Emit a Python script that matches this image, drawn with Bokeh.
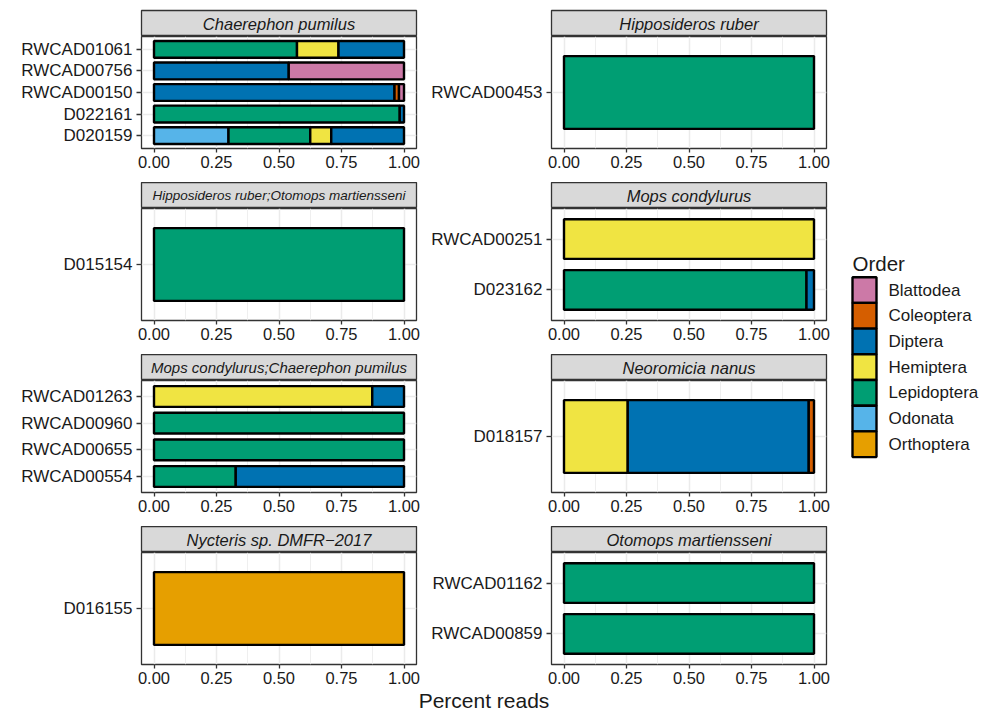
from bokeh.plotting import figure
from bokeh.layouts import row, column
from bokeh.models import Range1d, FixedTicker, Label, ColumnDataSource, PrintfTickFormatter
from bokeh.core.properties import value
from bokeh.embed import file_html
from bokeh.resources import INLINE

FONT = "Liberation Sans"

# ---------------- data ----------------
ORDERS = ["Blattodea", "Coleoptera", "Diptera", "Hemiptera", "Lepidoptera", "Odonata", "Orthoptera"]
ORDER_COLORS = ["#CC79A7", "#D55E00", "#0072B2", "#F0E442", "#009E73", "#56B4E9", "#E69F00"]

PANELS = [
    "Chaerephon pumilus",
    "Hipposideros ruber",
    "Hipposideros ruber;Otomops martiensseni",
    "Mops condylurus",
    "Mops condylurus;Chaerephon pumilus",
    "Neoromicia nanus",
    "Nycteris sp. DMFR\u22122017",
    "Otomops martiensseni",
]

SEG_BAT = [
    "Chaerephon pumilus", "Chaerephon pumilus", "Chaerephon pumilus",
    "Chaerephon pumilus", "Chaerephon pumilus",
    "Chaerephon pumilus", "Chaerephon pumilus", "Chaerephon pumilus",
    "Chaerephon pumilus", "Chaerephon pumilus",
    "Chaerephon pumilus", "Chaerephon pumilus", "Chaerephon pumilus", "Chaerephon pumilus",
    "Hipposideros ruber",
    "Hipposideros ruber;Otomops martiensseni",
    "Mops condylurus",
    "Mops condylurus", "Mops condylurus",
    "Mops condylurus;Chaerephon pumilus", "Mops condylurus;Chaerephon pumilus",
    "Mops condylurus;Chaerephon pumilus",
    "Mops condylurus;Chaerephon pumilus",
    "Mops condylurus;Chaerephon pumilus", "Mops condylurus;Chaerephon pumilus",
    "Neoromicia nanus", "Neoromicia nanus", "Neoromicia nanus",
    "Nycteris sp. DMFR\u22122017",
    "Otomops martiensseni",
    "Otomops martiensseni",
]
SEG_SAMPLE = [
    "RWCAD01061", "RWCAD01061", "RWCAD01061",
    "RWCAD00756", "RWCAD00756",
    "RWCAD00150", "RWCAD00150", "RWCAD00150",
    "D022161", "D022161",
    "D020159", "D020159", "D020159", "D020159",
    "RWCAD00453",
    "D015154",
    "RWCAD00251",
    "D023162", "D023162",
    "RWCAD01263", "RWCAD01263",
    "RWCAD00960",
    "RWCAD00655",
    "RWCAD00554", "RWCAD00554",
    "D018157", "D018157", "D018157",
    "D016155",
    "RWCAD01162",
    "RWCAD00859",
]
SEG_ORDER = [
    "Lepidoptera", "Hemiptera", "Diptera",
    "Diptera", "Blattodea",
    "Diptera", "Coleoptera", "Blattodea",
    "Lepidoptera", "Diptera",
    "Odonata", "Lepidoptera", "Hemiptera", "Diptera",
    "Lepidoptera",
    "Lepidoptera",
    "Hemiptera",
    "Lepidoptera", "Diptera",
    "Hemiptera", "Diptera",
    "Lepidoptera",
    "Lepidoptera",
    "Lepidoptera", "Diptera",
    "Hemiptera", "Diptera", "Coleoptera",
    "Orthoptera",
    "Lepidoptera",
    "Lepidoptera",
]
SEG_VALUE = [
    0.572, 0.166, 0.262,
    0.539, 0.461,
    0.962, 0.018, 0.020,
    0.983, 0.017,
    0.298, 0.327, 0.084, 0.291,
    1.0,
    1.0,
    1.0,
    0.970, 0.030,
    0.873, 0.127,
    1.0,
    1.0,
    0.327, 0.673,
    0.255, 0.724, 0.021,
    1.0,
    1.0,
    1.0,
]

XTICKS = [0.0, 0.25, 0.5, 0.75, 1.0]
XMINOR = [0.125, 0.375, 0.625, 0.875]
X_TITLE = "Percent reads"
LEGEND_TITLE = "Order"

# ---------------- style / layout ----------------
COL_W = [424, 412]
COL_ML = [141, 127]
COL_MR = [8, 10]
FRAME_H = 112
ROW_MB = [34, 34, 34, 25]
STRIP_H = 26
TOP_PAD = 10
TITLE_H = 21
BAR_H = 0.78
STRIP_SIZES = {2: "13.5px", 4: "15px"}
TEXT_COL = "#1A1A1A"
BORDER_COL = "#333333"
GRID_COL = "#EBEBEB"


def panel_data(bat):
    idx = [i for i, b in enumerate(SEG_BAT) if b == bat]
    samples = sorted(set(SEG_SAMPLE[i] for i in idx))
    left, right, ys, colors = [], [], [], []
    for k, s in enumerate(samples):
        segs = [i for i in idx if SEG_SAMPLE[i] == s]
        segs.sort(key=lambda i: -ORDERS.index(SEG_ORDER[i]))
        cum = 0.0
        for i in segs:
            left.append(cum)
            cum += SEG_VALUE[i]
            right.append(cum)
            ys.append(k + 1)
            colors.append(ORDER_COLORS[ORDERS.index(SEG_ORDER[i])])
    return samples, dict(left=left, right=right, y=ys, color=colors)


def make_strip(pi, col, rowi):
    top = TOP_PAD if rowi == 0 else 0
    p = figure(width=COL_W[col], height=STRIP_H + top, x_range=Range1d(0, 1), y_range=Range1d(0, 1),
               output_backend="svg", toolbar_location=None, title=None,
               x_axis_type=None, y_axis_type=None,
               min_border_left=COL_ML[col], min_border_right=COL_MR[col],
               min_border_top=top, min_border_bottom=0)
    p.background_fill_color = "#D9D9D9"
    p.border_fill_color = "white"
    p.outline_line_color = BORDER_COL
    p.outline_line_width = 1.3
    p.grid.visible = False
    p.add_layout(Label(x=0.5, y=0.5, text=PANELS[pi], text_align="center", text_baseline="middle",
                       text_font=FONT, text_font_style="italic",
                       text_font_size=STRIP_SIZES.get(pi, "16.5px"), text_color=TEXT_COL))
    return p


def make_panel(pi, col, rowi):
    samples, data = panel_data(PANELS[pi])
    n = len(samples)
    p = figure(width=COL_W[col], height=FRAME_H + ROW_MB[rowi],
               x_range=Range1d(-0.05, 1.05), y_range=Range1d(0.4, n + 0.6),
               output_backend="svg", toolbar_location=None, title=None,
               min_border_left=COL_ML[col], min_border_right=COL_MR[col],
               min_border_top=0, min_border_bottom=ROW_MB[rowi])
    p.hbar(y="y", left="left", right="right", height=BAR_H, fill_color="color",
           line_color="black", line_width=2.4, source=ColumnDataSource(data))
    p.outline_line_color = BORDER_COL
    p.outline_line_width = 1.3
    p.background_fill_color = "white"
    p.border_fill_color = "white"

    p.xaxis.ticker = FixedTicker(ticks=XTICKS)
    p.xaxis.formatter = PrintfTickFormatter(format="%.2f")
    p.yaxis.ticker = FixedTicker(ticks=list(range(1, n + 1)))
    p.yaxis.major_label_overrides = {k + 1: s for k, s in enumerate(samples)}

    p.xgrid.ticker = FixedTicker(ticks=XTICKS, minor_ticks=XMINOR)
    p.xgrid.grid_line_color = GRID_COL
    p.xgrid.grid_line_width = 1.5
    p.xgrid.minor_grid_line_color = GRID_COL
    p.xgrid.minor_grid_line_width = 0.8
    p.ygrid.ticker = FixedTicker(ticks=list(range(1, n + 1)))
    p.ygrid.grid_line_color = GRID_COL
    p.ygrid.grid_line_width = 1.5

    for ax in (p.xaxis[0], p.yaxis[0]):
        ax.axis_line_color = None
        ax.major_tick_line_color = BORDER_COL
        ax.major_tick_line_width = 1.3
        ax.major_tick_in = 0
        ax.minor_tick_line_color = None
        ax.major_label_text_font = FONT
        ax.major_label_text_color = TEXT_COL
    p.xaxis.major_tick_out = 4
    p.xaxis.major_label_standoff = 3
    p.xaxis.major_label_text_font_size = "16.5px"
    p.yaxis.major_tick_out = 5
    p.yaxis.major_label_standoff = 4
    p.yaxis.major_label_text_font_size = "17px"
    return p


rows = []
for r in range(4):
    rows.append(row(make_strip(2 * r, 0, r), make_strip(2 * r + 1, 1, r)))
    rows.append(row(make_panel(2 * r, 0, r), make_panel(2 * r + 1, 1, r)))

TOTAL_W = COL_W[0] + COL_W[1]
title_fig = figure(width=TOTAL_W, height=TITLE_H, x_range=Range1d(0, TOTAL_W), y_range=Range1d(0, TITLE_H),
                   output_backend="svg", toolbar_location=None, title=None,
                   x_axis_type=None, y_axis_type=None, min_border=0)
title_fig.grid.visible = False
title_fig.outline_line_color = None
title_fig.add_layout(Label(x=483.5, y=TITLE_H / 2, text=X_TITLE, text_align="center", text_baseline="middle",
                           text_font=FONT, text_font_size="21px", text_color=TEXT_COL))

main_col = column(*rows, title_fig)
TOTAL_H = (TOP_PAD + STRIP_H) + 3 * (FRAME_H + 34) + 3 * STRIP_H + (FRAME_H + ROW_MB[3]) + TITLE_H

# legend figure
LEG_W = 150
leg = figure(width=LEG_W, height=TOTAL_H, x_range=Range1d(0, LEG_W), y_range=Range1d(TOTAL_H, 0),
             output_backend="svg", toolbar_location=None, title=None,
             x_axis_type=None, y_axis_type=None, min_border=0)
leg.grid.visible = False
leg.outline_line_color = None
key_h = 25.7
key_top0 = 276.7
tops = [key_top0 + key_h * i for i in range(len(ORDERS))]
leg.quad(left=16, right=40, top=tops, bottom=[t + key_h for t in tops],
         fill_color=ORDER_COLORS, line_color="black", line_width=2.4)
leg.text(x=[52] * len(ORDERS), y=[t + key_h / 2 for t in tops], text=ORDERS,
         text_font=value(FONT), text_font_size="17px", text_color=TEXT_COL,
         text_align="left", text_baseline="middle")
leg.add_layout(Label(x=16, y=263.3, text=LEGEND_TITLE, text_align="left", text_baseline="alphabetic",
                     text_font=FONT, text_font_size="20.5px", text_color=TEXT_COL))

layout = row(main_col, leg)

open("out.html", "w").write(file_html(layout, INLINE))
